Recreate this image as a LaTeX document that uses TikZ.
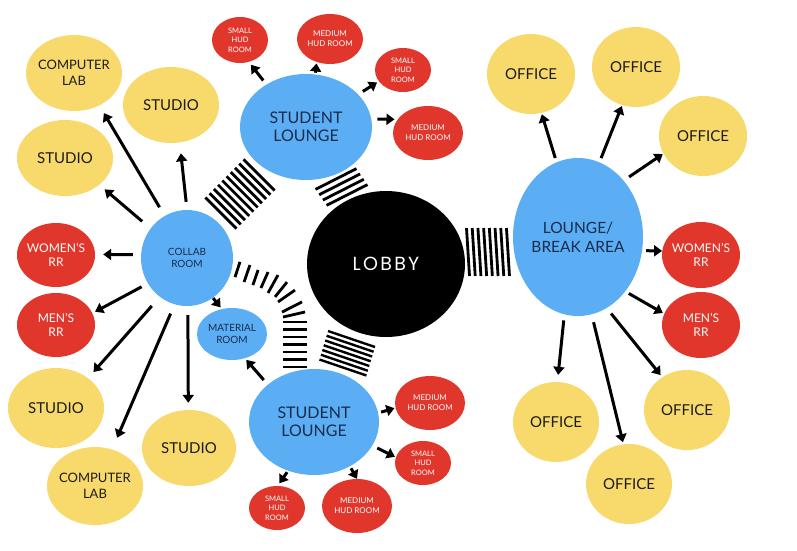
\documentclass[tikz,border=0pt]{standalone}
\usepackage{fontspec}
\setmainfont{Lato}
\newfontfamily\lobbyfont{Poppins}[LetterSpace=12]
\usetikzlibrary{shapes.geometric,arrows.meta,calc}
\definecolor{nodeblue}{HTML}{5BAEF4}
\definecolor{nodeyellow}{HTML}{F8D96C}
\definecolor{nodered}{HTML}{E1362B}
\definecolor{navy}{HTML}{1A2B4C}
\definecolor{darktext}{HTML}{1C1C1C}
\newcommand{\myfs}[2]{\fontsize{#1}{#2}\selectfont}
\tikzset{
  el/.style 2 args={ellipse, inner sep=0pt, minimum width=#1, minimum height=#2},
  bluen/.style={fill=nodeblue},
  yelln/.style={fill=nodeyellow},
  redn/.style={fill=nodered},
  navylbl/.style={text=navy, align=center},
  darklbl/.style={text=darktext, align=center},
  whitelbl/.style={text=white, align=center},
  arr/.style={line width=3pt, black, -{Triangle[length=8pt,width=11pt]}},
  stripeline/.style={line width=2.8pt, black},
}
\begin{document}
\begin{tikzpicture}[x=1pt,y=-1pt]
\useasboundingbox (0,0) rectangle (797,550);
\fill[white] (0,0) rectangle (797,550);

% ---- blue nodes
\node[el={132pt}{106pt}, bluen, label={[navylbl, font=\myfs{16}{18.5}]center:STUDENT\\LOUNGE}] (TL) at (306,127) {};
\node[el={130pt}{106pt}, bluen, label={[navylbl, font=\myfs{16}{18.5}]center:STUDENT\\LOUNGE}] (BL) at (314,422) {};
\node[el={92pt}{96pt}, bluen, label={[navylbl, font=\myfs{10}{12.5}]center:COLLAB\\ROOM}] (CR) at (187,258) {};
\node[el={70pt}{52pt}, bluen, label={[navylbl, font=\myfs{10}{12.5}]center:MATERIAL\\ROOM}] (mat) at (232,334) {};
\node[el={130pt}{158pt}, bluen, label={[navylbl, font=\myfs{15.5}{19}]center:LOUNGE/\\BREAK AREA}] (LB) at (578,237) {};

% ---- lobby
\node[el={158pt}{146pt}, fill=black, label={[whitelbl, font=\lobbyfont\myfs{19}{22}]center:LOBBY}] (LOB) at (386,264) {};

% ---- red nodes
\node[el={56pt}{46pt}, redn, label={[whitelbl, font=\myfs{7.5}{9.5}]center:SMALL\\HUD\\ROOM}] (sh1) at (240,40) {};
\node[el={66pt}{50pt}, redn, label={[whitelbl, font=\myfs{8}{10}]center:MEDIUM\\HUD ROOM}] (mh1) at (330,39) {};
\node[el={56pt}{44pt}, redn, label={[whitelbl, font=\myfs{7.5}{9.5}]center:SMALL\\HUD\\ROOM}] (sh2) at (403,70) {};
\node[el={70pt}{54pt}, redn, label={[whitelbl, font=\myfs{8}{10}]center:MEDIUM\\HUD ROOM}] (mh2) at (428,133) {};
\node[el={70pt}{54pt}, redn, label={[whitelbl, font=\myfs{8}{10}]center:MEDIUM\\HUD ROOM}] (mh3) at (430,403) {};
\node[el={56pt}{44pt}, redn, label={[whitelbl, font=\myfs{7.5}{9.5}]center:SMALL\\HUD\\ROOM}] (sh3) at (423,463) {};
\node[el={56pt}{44pt}, redn, label={[whitelbl, font=\myfs{7.5}{9.5}]center:SMALL\\HUD\\ROOM}] (sh4) at (277,508) {};
\node[el={70pt}{54pt}, redn, label={[whitelbl, font=\myfs{8}{10}]center:MEDIUM\\HUD ROOM}] (mh4) at (357,506) {};
\node[el={78pt}{64pt}, redn, label={[whitelbl, font=\myfs{12}{14.5}]center:WOMEN'S\\RR}] (wr1) at (56,255) {};
\node[el={78pt}{64pt}, redn, label={[whitelbl, font=\myfs{12}{14.5}]center:MEN'S\\RR}] (mr1) at (56,325) {};
\node[el={78pt}{66pt}, redn, label={[whitelbl, font=\myfs{12}{14.5}]center:WOMEN'S\\RR}] (wr2) at (701,255) {};
\node[el={78pt}{66pt}, redn, label={[whitelbl, font=\myfs{12}{14.5}]center:MEN'S\\RR}] (mr2) at (701,325) {};

% ---- yellow nodes
\node[el={96pt}{76pt}, yelln, label={[darklbl, font=\myfs{13}{16}]center:COMPUTER\\LAB}] (cl1) at (74,73) {};
\node[el={96pt}{76pt}, yelln, label={[darklbl, font=\myfs{15}{18}]center:STUDIO}] (st1) at (171,105) {};
\node[el={96pt}{76pt}, yelln, label={[darklbl, font=\myfs{15}{18}]center:STUDIO}] (st2) at (65,158) {};
\node[el={96pt}{80pt}, yelln, label={[darklbl, font=\myfs{15}{18}]center:STUDIO}] (st3) at (56,408) {};
\node[el={96pt}{78pt}, yelln, label={[darklbl, font=\myfs{13}{16}]center:COMPUTER\\LAB}] (cl2) at (95,486) {};
\node[el={94pt}{76pt}, yelln, label={[darklbl, font=\myfs{15}{18}]center:STUDIO}] (st4) at (189,448) {};
\node[el={88pt}{80pt}, yelln, label={[darklbl, font=\myfs{15}{18}]center:OFFICE}] (of1) at (531,74) {};
\node[el={88pt}{80pt}, yelln, label={[darklbl, font=\myfs{15}{18}]center:OFFICE}] (of2) at (636,67) {};
\node[el={88pt}{80pt}, yelln, label={[darklbl, font=\myfs{15}{18}]center:OFFICE}] (of3) at (703,136) {};
\node[el={86pt}{80pt}, yelln, label={[darklbl, font=\myfs{15}{18}]center:OFFICE}] (of4) at (687,410) {};
\node[el={86pt}{80pt}, yelln, label={[darklbl, font=\myfs{15}{18}]center:OFFICE}] (of5) at (556,422) {};
\node[el={86pt}{80pt}, yelln, label={[darklbl, font=\myfs{15}{18}]center:OFFICE}] (of6) at (629,484) {};

% ---- striped bridges
% collab room -- top lounge
\foreach \o in {-27,-21,...,27} {
  \draw[stripeline] ({240+0.7071*\o-15.6},{194-0.7071*\o-15.6}) -- ({240+0.7071*\o+15.6},{194-0.7071*\o+15.6});
}
% top lounge -- lobby
\foreach \i in {0,1,2,3} {
  \draw[stripeline] ({336+3.67*\i-20.5},{179+5.33*\i+10.4}) -- ({336+3.67*\i+20.5},{179+5.33*\i-10.4});
}
% lobby -- bottom lounge
\foreach \i in {0,...,6} {
  \draw[stripeline, line width=2.4pt] ({351.5-1.42*\i-23.5},{339+4.75*\i-8}) -- ({351.5-1.42*\i+23.5},{339+4.75*\i+8});
}
% lobby -- lounge/break area
\foreach \i in {0,...,7} {
  \draw[stripeline] ({468+5.71*\i-1.5},228) -- ({468+5.71*\i+1.5},276);
}
% curved ladder collab room -- bottom lounge
\foreach \cx/\cy/\an/\len in {237.5/269.5/72/16, 247/273.5/71/18, 255.5/277.5/71/16, 264.5/280/66/17.5, 273/284/61/20.5, 281/289.5/51/19, 286.5/296/35/20.7, 292/307/27/22.4, 294/314.5/13/22.6} {
  \draw[stripeline] ({\cx+\len/2*cos(\an)},{\cy-\len/2*sin(\an)}) -- ({\cx-\len/2*cos(\an)},{\cy+\len/2*sin(\an)});
}
\foreach \yy in {322,329.5,...,367} {
  \draw[stripeline] (283,\yy) -- (307,\yy);
}

% ---- arrows: top student lounge
\draw[arr, shorten <=5pt, shorten >=3.5pt] (TL.133) -- (sh1.-68);
\draw[arr, shorten <=1.6pt, shorten >=1.4pt] (TL.80) -- (mh1.-120);
\draw[arr, shorten <=5.4pt, shorten >=2pt] (TL.32) -- (sh2.205);
\draw[arr, shorten <=6pt, shorten >=3pt] (TL.7) -- (mh2.156);
% bottom student lounge
\draw[arr, shorten <=6pt, shorten >=2pt] (BL.141) -- (mat.-62);
\draw[arr, shorten <=3pt, shorten >=1pt] (BL.8) -- (mh3.188);
\draw[arr, shorten <=5.4pt, shorten >=1pt] (BL.-22) -- (sh3.168);
\draw[arr, shorten <=1.7pt, shorten >=3pt] (BL.-118) -- (sh4.88);
\draw[arr, shorten <=2.2pt, shorten >=0pt] (BL.-51) -- (mh4.90);
% collab room
\draw[arr, shorten <=10pt, shorten >=8.8pt] (CR.118) -- (cl1.-52);
\draw[arr, shorten <=8pt, shorten >=10.8pt] (CR.90) -- (st1.-77);
\draw[arr, shorten <=11pt, shorten >=7pt] (CR.141) -- (st2.-38);
\draw[arr, shorten <=8pt, shorten >=8pt] (CR.176) -- (wr1.1);
\draw[arr, shorten <=7pt, shorten >=3pt] (CR.213) -- (mr1.18);
\draw[arr, shorten <=12pt, shorten >=8pt] (CR.235) -- (st3.43);
\draw[arr, shorten <=10pt, shorten >=12.6pt] (CR.255) -- (cl2.65);
\draw[arr, shorten <=9pt, shorten >=7pt] (CR.271) -- (st4.91);
\draw[arr, shorten <=0.3pt, shorten >=2pt] (CR.-57) -- (mat.112);
% lounge / break area
\draw[arr, shorten <=4.4pt, shorten >=1.3pt] (LB.106) -- (of1.-75);
\draw[arr, shorten <=4.4pt, shorten >=1pt] (LB.74) -- (of2.250);
\draw[arr, shorten <=6.5pt, shorten >=0.7pt] (LB.51) -- (of3.204);
\draw[arr, shorten <=4pt, shorten >=0pt] (LB.-12) -- (wr2.174);
\draw[arr, shorten <=4pt, shorten >=1.5pt] (LB.-49) -- (mr2.163);
\draw[arr, shorten <=7pt, shorten >=2.6pt] (LB.-68) -- (of4.127);
\draw[arr, shorten <=8pt, shorten >=2pt] (LB.-80) -- (of6.98);
\draw[arr, shorten <=6pt, shorten >=7pt] (LB.260) -- (of5.88);
\end{tikzpicture}
\end{document}
